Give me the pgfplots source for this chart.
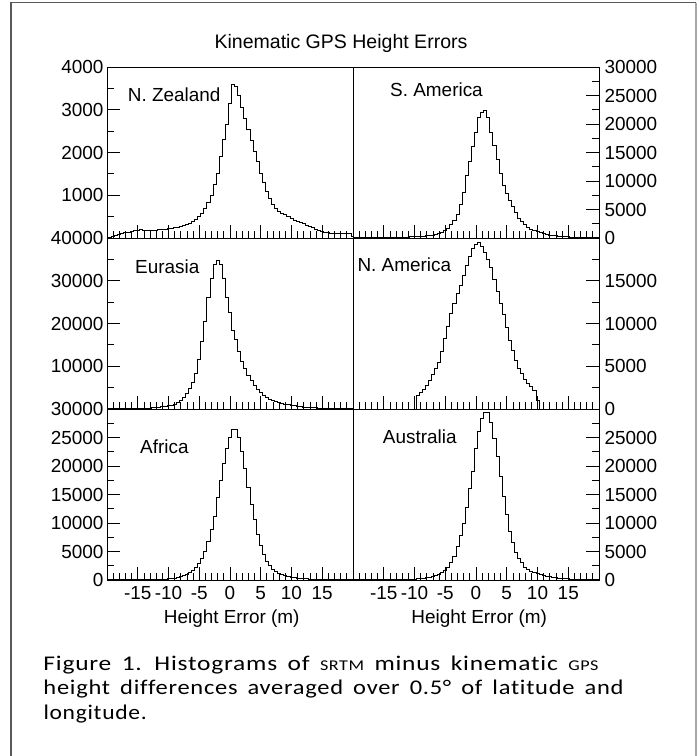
\documentclass[border=0pt]{standalone}
\usepackage{fontspec}
\setmainfont{Liberation Sans}
\newfontfamily\capfont[LetterSpace=3, WordSpace=1.6, Ligatures=NoCommon]{Carlito}
\usepackage{graphicx}
\usepackage{pgfplots}
\usepackage{pgfplotstable}
\pgfplotsset{compat=1.18}

\pgfplotstableread{
x       nz    sa    eu    na    af    au
-20.25  20    30    25    0     20    10
-19.75  20    30    25    0     20    10
-19.25  40    35    30    0     25    10
-18.75  60    40    35    0     25    12
-18.25  80    45    40    0     30    14
-17.75  100   50    45    0     30    16
-17.25  120   55    50    0     35    18
-16.75  140   60    60    0     40    20
-16.25  160   65    70    0     45    23
-15.75  175   70    85    0     50    26
-15.25  185   75    100   0     55    30
-14.75  190   80    120   0     60    35
-14.25  185   90    150   0     70    40
-13.75  180   100   180   0     80    45
-13.25  175   110   220   0     90    55
-12.75  180   120   270   0     100   65
-12.25  185   135   330   0     115   80
-11.75  190   150   400   0     130   100
-11.25  200   170   480   0     150   120
-10.75  205   190   600   0     180   150
-10.25  215   220   750   0     220   180
-9.75   225   250   900   1600  270   220
-9.25   235   290   1170  1900  350   270
-8.75   250   330   1560  2300  450   330
-8.25   270   380   2100  2800  600   400
-7.75   285   430   2730  3300  800   500
-7.25   310   500   3660  4000  1050  640
-6.75   350   600   4830  4700  1350  780
-6.25   390   750   6160  5400  1700  950
-5.75   440   1000  8340  6700  2200  1300
-5.25   500   1300  11700 8200  2900  1600
-4.75   580   1700  15750 9700  3800  2200
-4.25   680   2300  20580 11200 5000  3100
-3.75   820   3100  26040 12400 6700  4200
-3.25   1000  4200  30560 13500 8800  5900
-2.75   1250  5800  33900 14500 11200 7800
-2.25   1500  8000  34850 15600 14500 10000
-1.75   1900  11000 33900 16800 17500 12700
-1.25   2300  13500 30560 17900 20500 16000
-0.75   2650  16000 26040 18800 23000 19000
-0.25   3150  18600 22530 19300 25000 23000
0.25    3600  21100 18480 19500 26400 26000
0.75    3550  22000 16300 19000 26400 28400
1.25    3330  22300 13400 18300 25000 29400
1.75    3050  21200 11070 17500 22500 29400
2.25    2800  18500 9510  16500 19500 27600
2.75    2550  16300 7950  15200 16300 24900
3.25    2280  13700 6630  13800 13200 21700
3.75    2030  11300 5610  12400 10700 18100
4.25    1780  9300  4600  11000 8000  14700
4.75    1500  7800  3820  9500  6000  11500
5.25    1300  6600  3200  8000  4500  8600
5.75    1100  5500  2650  6800  3300  6600
6.25    930   4400  2260  5700  2500  4800
6.75    790   3500  1950  4800  1900  3700
7.25    690   2900  1720  4100  1500  3000
7.75    620   2300  1500  3500  1200  2200
8.25    580   1900  1330  3000  950   1800
8.75    540   1550  1150  2600  780   1500
9.25    500   1300  1000  2200  640   1250
9.75    460   1100  860   1000  520   1100
10.25   420   900   740   0     430   950
10.75   390   750   640   0     350   800
11.25   360   620   550   0     290   650
11.75   330   520   470   0     240   540
12.25   300   450   400   0     200   460
12.75   270   380   340   0     170   400
13.25   240   320   290   0     140   340
13.75   210   270   250   0     120   290
14.25   180   230   210   0     100   250
14.75   150   200   180   0     85    210
15.25   130   170   150   0     75    180
15.75   120   150   130   0     65    150
16.25   110   130   110   0     60    130
16.75   110   110   95    0     50    110
17.25   105   100   80    0     45    95
17.75   105   90    70    0     40    80
18.25   100   80    60    0     35    70
18.75   100   70    50    0     30    60
19.25   95    60    45    0     25    50
19.75   40    50    40    0     25    40
20.25   40    50    40    0     25    40
}\histdata

\newcommand{\chartfont}{\fontsize{19}{22}\selectfont}

\pgfplotsset{
  hpanel/.style={
    scale only axis, width=246bp, height=171bp,
    xmin=-20, xmax=20, ymin=0,
    anchor=south west,
    axis line style={line width=0.8bp, black},
    tick style={line width=0.8bp, black},
    tick align=inside,
    major tick length=13bp, minor tick length=7bp,
    xtick={-15,-10,-5,0,5,10,15},
    minor xtick={-19,-18,...,19},
    xtick pos=bottom,
    xticklabels={},
    ticklabel style={font=\chartfont},
    xticklabel style={yshift=-3bp},
    /pgf/number format/assume math mode=true,
    /pgf/number format/1000 sep={},
    scaled y ticks=false,
  },
  leftpanel/.style={hpanel, ytick pos=left},
  rightpanel/.style={hpanel, ytick pos=right, yticklabel pos=right,
    yticklabel style={xshift=2bp}},
  bottompanel/.style={xticklabels={-15,-10,-5,0,5,10,15}},
  hist/.style={const plot mark left, black, line width=0.9bp, no marks},
}

\begin{document}
\begin{tikzpicture}
\useasboundingbox (0,0) rectangle (698bp,756bp);
\begin{scope}
\clip (0,0) rectangle (698bp,756bp);
\draw[line width=1.6bp, black!65] (11bp,-10bp) -- (11bp,753.3bp) -- (696bp,753.3bp);
\draw[line width=1.2bp, black!35] (696bp,753.3bp) -- (696bp,-10bp);
\end{scope}

% Row 1
\begin{axis}[leftpanel, at={(107bp,518bp)}, ymax=4000,
  ytick={1000,2000,3000,4000}, minor ytick={500,1500,2500,3500}]
\addplot[hist] table[x=x, y=nz] {\histdata};
\end{axis}
\begin{axis}[rightpanel, at={(353bp,518bp)}, ymax=30000,
  ytick={0,5000,10000,15000,20000,25000,30000},
  minor ytick={2500,7500,12500,17500,22500,27500}]
\addplot[hist] table[x=x, y=sa] {\histdata};
\end{axis}

% Row 2
\begin{axis}[leftpanel, at={(107bp,347bp)}, ymax=40000,
  ytick={10000,20000,30000,40000}, minor ytick={5000,15000,25000,35000}]
\addplot[hist] table[x=x, y=eu] {\histdata};
\end{axis}
\begin{axis}[rightpanel, at={(353bp,347bp)}, ymax=20000,
  ytick={0,5000,10000,15000}, minor ytick={2500,7500,12500,17500}]
\addplot[hist] table[x=x, y=na] {\histdata};
\end{axis}

% Row 3
\begin{axis}[leftpanel, bottompanel, at={(107bp,176bp)}, ymax=30000,
  ytick={0,5000,10000,15000,20000,25000,30000},
  minor ytick={2500,7500,12500,17500,22500,27500}]
\addplot[hist] table[x=x, y=af] {\histdata};
\end{axis}
\begin{axis}[rightpanel, bottompanel, at={(353bp,176bp)}, ymax=30000,
  ytick={0,5000,10000,15000,20000,25000},
  minor ytick={2500,7500,12500,17500,22500,27500}]
\addplot[hist] table[x=x, y=au] {\histdata};
\end{axis}

% Texts
\node[anchor=base, inner sep=0, font=\fontsize{19.6}{22}\selectfont] at (341bp,707.7bp) {Kinematic GPS Height Errors};
\node[anchor=base west, inner sep=0, font=\chartfont] at (127.7bp,654.3bp) {N. Zealand};
\node[anchor=base west, inner sep=0, font=\chartfont] at (390bp,659.3bp) {S. America};
\node[anchor=base west, inner sep=0, font=\chartfont] at (135bp,482.7bp) {Eurasia};
\node[anchor=base west, inner sep=0, font=\chartfont] at (357.3bp,484.3bp) {N. America};
\node[anchor=base west, inner sep=0, font=\chartfont] at (140bp,302bp) {Africa};
\node[anchor=base west, inner sep=0, font=\chartfont] at (382.7bp,312bp) {Australia};
\node[anchor=base, inner sep=0, font=\chartfont] at (231.7bp,132bp) {Height Error (m)};
\node[anchor=base, inner sep=0, font=\chartfont] at (479.2bp,132bp) {Height Error (m)};

% Caption
\node[anchor=base west, inner sep=0] at (43.3bp,85.5bp)
  {\resizebox{555bp}{\height}{\capfont\fontsize{21}{25}\selectfont Figure 1. Histograms of {\fontsize{15}{18}\selectfont SRTM} minus kinematic {\fontsize{15}{18}\selectfont GPS}}};
\node[anchor=base west, inner sep=0] at (43.3bp,61bp)
  {\resizebox{580bp}{\height}{\capfont\fontsize{21}{25}\selectfont height differences averaged over 0.5° of latitude and}};
\node[anchor=base west, inner sep=0] at (43.3bp,36.5bp)
  {\resizebox{103.4bp}{\height}{\capfont\fontsize{21}{25}\selectfont longitude.}};
\end{tikzpicture}
\end{document}
